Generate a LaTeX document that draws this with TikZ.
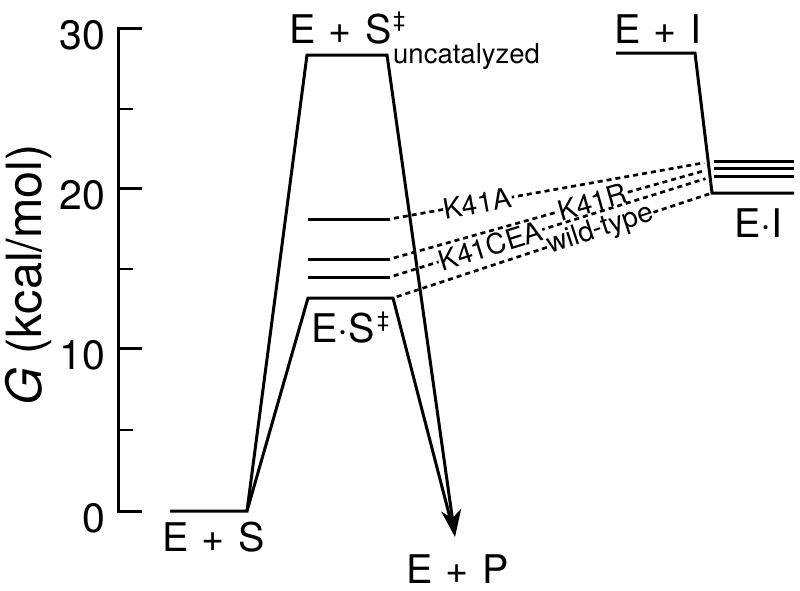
\documentclass[tikz,border=0pt]{standalone}
\usepackage{fontspec}
\setmainfont{TeX Gyre Heros}
\usetikzlibrary{arrows.meta}
\newcommand{\gsp}{\hspace{0.34em}}
\begin{document}
\begin{tikzpicture}[x=1pt,y=-1pt,
  lvl/.style={line width=3pt},
  dsh/.style={line width=2.7pt, dash pattern=on 5pt off 4pt},
  big/.style={font=\fontsize{39.5}{39.5}\selectfont, inner sep=0pt},
  ticklab/.style={font=\fontsize{41}{41}\selectfont, inner sep=0pt, anchor=base east},
  small/.style={font=\fontsize{28}{28}\selectfont, inner sep=0.5pt, fill=white},
  dag/.style={font=\fontsize{22}{22}\selectfont, inner sep=0pt, anchor=base west},
]
\useasboundingbox (0,0) rectangle (800,590);
% axis
\coordinate (axT) at (142,28);
\coordinate (axTL) at (118,28);
\coordinate (axBL) at (118,511);
\coordinate (axB) at (142,511);
\draw[lvl] (axT) -- (axTL) -- (axBL) -- (axB);
\coordinate (t10a) at (118,348); \coordinate (t10b) at (142,348);
\coordinate (t20a) at (118,188); \coordinate (t20b) at (142,188);
\draw[lvl] (t10a) -- (t10b);
\draw[lvl] (t20a) -- (t20b);
\foreach \y/\n in {108.5/m25,268.5/m15,430/m5}{
  \coordinate (\n a) at (118,\y); \coordinate (\n b) at (133,\y);
  \draw[line width=2pt] (\n a) -- (\n b);
}
\node[ticklab] (l30) at (105,49) {30};
\node[ticklab] (l20) at (105,209) {20};
\node[ticklab] (l10) at (105,369) {10};
\node[ticklab] (l0) at (105,532) {0};
\node[font=\fontsize{48.5}{48.5}\selectfont, inner sep=0pt, rotate=90] (ylab) at (29,275) {\textit{G} (kcal/mol)};

% reaction profile
\coordinate (ESL) at (170,511);
\coordinate (ESR) at (247,511);
\coordinate (TuL) at (307,55);
\coordinate (TuR) at (387,55);
\coordinate (TcL) at (308,298);
\coordinate (TcR) at (393,298);
\coordinate (EP) at (455,537);
\draw[lvl, -{Stealth[length=27pt,width=20pt,inset=8pt]}] (ESL) -- (ESR) -- (TuL) -- (TuR) -- (EP);
\draw[lvl, shorten >=12pt] (ESR) -- (TcL) -- (TcR) -- (EP);

% mutant levels
\coordinate (AL) at (308,219); \coordinate (AR) at (390,219);
\coordinate (RL) at (308,259); \coordinate (RR) at (390,259);
\coordinate (CL) at (308,277); \coordinate (CR) at (390,277);
\draw[lvl] (AL) -- (AR);
\draw[lvl] (RL) -- (RR);
\draw[lvl] (CL) -- (CR);

% inhibitor
\coordinate (EIpL) at (616,53);
\coordinate (EIpR) at (695,53);
\coordinate (EIL) at (712,193);
\coordinate (EIR) at (794,193);
\draw[lvl] (EIpL) -- (EIpR) -- (EIL) -- (EIR);
\coordinate (IAL) at (714,161); \coordinate (IAR) at (794,161);
\coordinate (IRL) at (714,168); \coordinate (IRR) at (794,168);
\coordinate (ICL) at (714,176); \coordinate (ICR) at (794,176);
\draw[lvl] (IAL) -- (IAR);
\draw[lvl] (IRL) -- (IRR);
\draw[lvl] (ICL) -- (ICR);

% dashed correlation lines
\draw[dsh, shorten <=4pt, shorten >=10pt] (AR) -- node[small, sloped, pos=0.27] (kA) {K41A} (IAL);
\draw[dsh, shorten <=4pt, shorten >=10pt] (RR) -- node[small, sloped, pos=0.625] (kR) {K41R} (IRL);
\draw[dsh, shorten <=4pt, shorten >=9pt] (CR) -- node[small, sloped, pos=0.31] (kC) {K41CEA} (ICL);
\draw[dsh, shorten <=4pt, shorten >=3pt] (TcR) -- node[small, sloped, pos=0.65] (kW) {wild-type} (EIL);

% labels
\node[big, anchor=base west] (lES) at (162,551) {E\gsp+\gsp S};
\node[big, anchor=base west] (lTS) at (289,43) {E\gsp+\gsp S};
\node[dag] (dTS) at (393,27) {‡};
\node[font=\fontsize{27.5}{27.5}\selectfont, inner sep=0pt, anchor=base west] (lunc) at (393,63) {uncatalyzed};
\node[big, anchor=base west] (lESc) at (311,342) {E·S};
\node[dag] (dESc) at (377,327) {‡};
\node[big, anchor=base west] (lEP) at (406,583) {E\gsp+\gsp P};
\node[big, anchor=base west] (lEIp) at (614,43) {E\gsp+\gsp I};
\node[big, anchor=base west] (lEI) at (734,237) {E·I};
\end{tikzpicture}
\end{document}
